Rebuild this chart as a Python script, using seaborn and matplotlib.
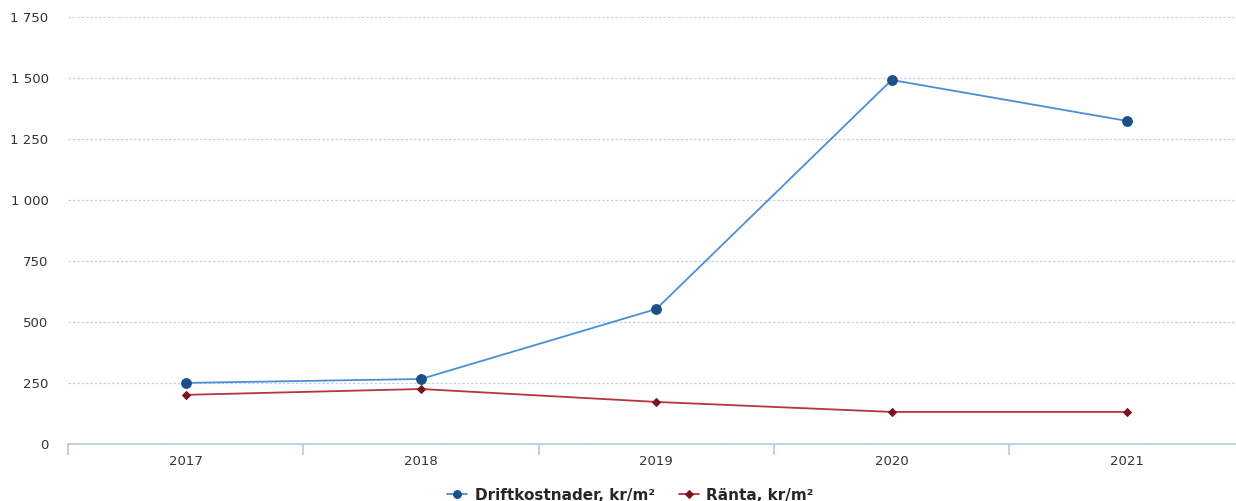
import pandas as pd
import matplotlib.pyplot as plt
import seaborn as sns

years = ['2017', '2018', '2019', '2020', '2021']
drift = [250, 266, 553, 1492, 1324]
ranta = [201, 225, 172, 131, 131]
yticks = [0, 250, 500, 750, 1000, 1250, 1500, 1750]
ytick_labels = ['0', '250', '500', '750', '1 000', '1 250', '1 500', '1 750']

df = pd.DataFrame({'År': years, 'Driftkostnader, kr/m²': drift, 'Ränta, kr/m²': ranta})
df_long = df.melt(id_vars='År', var_name='Serie', value_name='Värde')

sns.set_style("white")
plt.rcParams['font.family'] = ['DejaVu Sans']

fig = plt.figure(figsize=(12.36, 5.01), dpi=100)
ax = fig.add_axes([0.055, 0.114, 0.952, 0.852])

styles = {
  'Driftkostnader, kr/m²': dict(color='#4a8fd6', marker='o', markersize=7,
                                markerfacecolor='#1c4f85', markeredgecolor='#1c4f85'),
  'Ränta, kr/m²': dict(color='#b8323f', marker='D', markersize=4.5,
                       markerfacecolor='#7a1420', markeredgecolor='#7a1420'),
}
for name, st in styles.items():
  sub = df_long[df_long['Serie'] == name]
  sns.lineplot(data=sub, x='År', y='Värde', ax=ax, linewidth=1.3, label=name, **st)

ax.set_xlim(-0.5, 4.5)
ax.set_ylim(0, 1750)
ax.set_yticks(yticks)
ax.set_yticklabels(ytick_labels)
ax.yaxis.grid(True, color='#c8d0e8', linestyle=(0, (2, 1.5)), linewidth=0.9)
ax.set_axisbelow(True)
for s in ['top', 'right', 'left']:
  ax.spines[s].set_visible(False)
ax.spines['bottom'].set_color('#b4c8e4')
ax.spines['bottom'].set_linewidth(1.2)

ax.set_xticks(range(5))
ax.set_xticklabels(years)
ax.set_xticks([i - 0.5 for i in range(6)], minor=True)
ax.tick_params(axis='x', which='major', bottom=False, length=0, pad=8, labelsize=9.5, colors='#333333')
ax.tick_params(axis='x', which='minor', bottom=True, length=8, color='#b4c8e4', width=1.2)
ax.tick_params(axis='y', length=0, pad=14, labelsize=9.5, colors='#333333')
ax.set_xlabel('')
ax.set_ylabel('')

leg = ax.legend(loc='upper center', bbox_to_anchor=(0.5 - 0.022, -0.07), ncol=2, frameon=False,
                prop={'weight': 'bold', 'size': 11}, handlelength=1.3, handletextpad=0.5,
                columnspacing=1.6, markerscale=0.8)

fig.savefig('out.png', dpi=100)
